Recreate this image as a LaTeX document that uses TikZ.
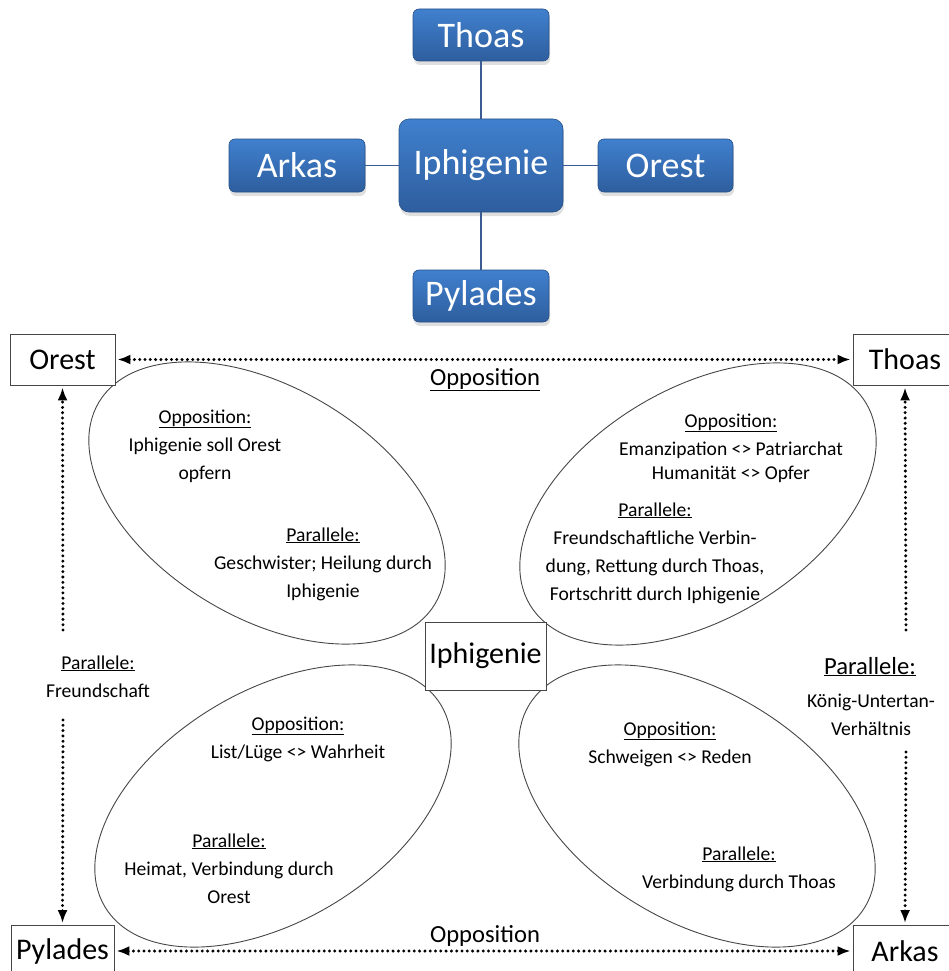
\documentclass[tikz,border=0pt]{standalone}
\usepackage{fontspec}
\setmainfont{Carlito}
\usetikzlibrary{shapes.geometric,arrows.meta,shadows}

\newcommand{\uln}[1]{\vtop{\hbox{#1}\kern0.5pt\hrule height 1.1pt}}

\definecolor{boxtop}{RGB}{64,128,206}
\definecolor{boxbot}{RGB}{46,94,158}
\definecolor{linkblue}{RGB}{58,92,146}
\definecolor{rimgray}{RGB}{70,70,70}

\begin{document}
\begin{tikzpicture}[x=1pt,y=-1pt,
    bluebox/.style={rectangle, rounded corners=6pt, top color=boxtop, bottom color=boxbot,
        draw=boxbot!85!black, line width=0.6pt, text=white, inner sep=0pt,
        font=\fontsize{36}{40}\selectfont,
        drop shadow={opacity=0.25, shadow xshift=1pt, shadow yshift=-4pt}},
    link/.style={draw=linkblue, line width=1.4pt},
    whitebox/.style={rectangle, draw=rimgray, line width=0.8pt, fill=white, inner sep=0pt,
        font=\fontsize{30}{34}\selectfont},
    ellbox/.style={ellipse, draw=rimgray, line width=0.9pt, inner sep=0pt,
        minimum width=392pt, minimum height=230pt},
    txt/.style={align=center, inner sep=0pt, font=\fontsize{19.6}{28}\selectfont},
    bigtxt/.style={inner sep=0pt, font=\fontsize{24.6}{28}\selectfont},
    dotline/.style={line width=3.3pt, line cap=round, dash pattern=on 0pt off 5.3pt,
        shorten >=2pt, shorten <=2pt},
    tip/.tip={Latex[length=13pt,width=10pt]}]

    \useasboundingbox (0,0) rectangle (948,971);

    % upper chart
    \node[bluebox, minimum width=136pt, minimum height=52pt] (thoasu) at (481,35) {Thoas};
    \node[bluebox, rounded corners=10pt, minimum width=164pt, minimum height=93pt] (iphu) at (481,165.5) {Iphigenie};
    \node[bluebox, minimum width=136pt, minimum height=53pt] (arkasu) at (297,165.5) {Arkas};
    \node[bluebox, minimum width=135pt, minimum height=53pt] (orestu) at (665.5,165.5) {Orest};
    \node[bluebox, minimum width=136pt, minimum height=52pt] (pyladesu) at (481,296) {Pylades};

    \draw[link] (thoasu.south) -- (iphu.north);
    \draw[link] (iphu.west) -- (arkasu.east);
    \draw[link] (iphu.east) -- (orestu.west);
    \draw[link] (iphu.south) -- (pyladesu.north);

    % ellipses
    \node[ellbox, rotate=-31] (elltl) at (267,503) {};
    \node[ellbox, rotate=31] (elltr) at (698,504) {};
    \node[ellbox, rotate=31] (ellbl) at (273,806) {};
    \node[ellbox, rotate=-31] (ellbr) at (697,806) {};

    % lower chart
    \node[whitebox, minimum width=105pt, minimum height=51pt] (orestb) at (62.5,359.5) {Orest};
    \node[whitebox, minimum width=104pt, minimum height=51pt] (thoasb) at (905,359.5) {Thoas};
    \node[whitebox, minimum width=103pt, minimum height=51pt] (pyladesb) at (62.5,951) {Pylades};
    \node[whitebox, minimum width=104pt, minimum height=51pt] (arkasb) at (905,951) {Arkas};
    \node[whitebox, minimum width=121pt, minimum height=68pt] (iphb) at (485.5,656) {Iphigenie};

    \coordinate (ltop) at (63,632);
    \coordinate (lbot) at (63,718);
    \coordinate (rtop) at (906,632);
    \coordinate (rbot) at (906,750);

    \draw[dotline, tip-tip] (orestb.east) -- (thoasb.west);
    \draw[dotline, tip-tip] (pyladesb.east) -- (arkasb.west);
    \draw[dotline, -tip] (ltop) -- (orestb.south);
    \draw[dotline, -tip] (lbot) -- (pyladesb.north);
    \draw[dotline, -tip] (rtop) -- (thoasb.south);
    \draw[dotline, -tip] (rbot) -- (arkasb.north);

    \node[bigtxt] (opptop) at (485,380) {\uln{Opposition}};
    \node[bigtxt] (oppbot) at (485,936) {Opposition};
    \node[txt] (parl) at (98,677) {\uln{Parallele:}\\Freundschaft};
    \node[bigtxt] (parrh) at (870,667) {\uln{Parallele:}};
    \node[txt] (parr) at (871,714.5) {König-Untertan-\\Verhältnis};

    % texts in the ellipses
    \node[txt] (tlopp) at (205,446) {\uln{Opposition:}\\Iphigenie soll Orest\\opfern};
    \node[txt] (tlpar) at (323,564) {\uln{Parallele:}\\Geschwister; Heilung durch\\Iphigenie};
    \node[txt] (tropp) at (731,448) {\uln{Opposition:}\\Emanzipation <> Patriarchat\\[-4pt]Humanität <> Opfer};
    \node[txt] (trpar) at (655,553) {\uln{Parallele:}\\Freundschaftliche Verbin-\\dung, Rettung durch Thoas,\\Fortschritt durch Iphigenie};
    \node[txt] (blopp) at (298,739) {\uln{Opposition:}\\List/Lüge <> Wahrheit};
    \node[txt] (blpar) at (229,869) {\uln{Parallele:}\\Heimat, Verbindung durch\\Orest};
    \node[txt] (bropp) at (670,744.5) {\uln{Opposition:}\\Schweigen <> Reden};
    \node[txt] (brpar) at (739,869) {\uln{Parallele:}\\Verbindung durch Thoas};
\end{tikzpicture}
\end{document}
